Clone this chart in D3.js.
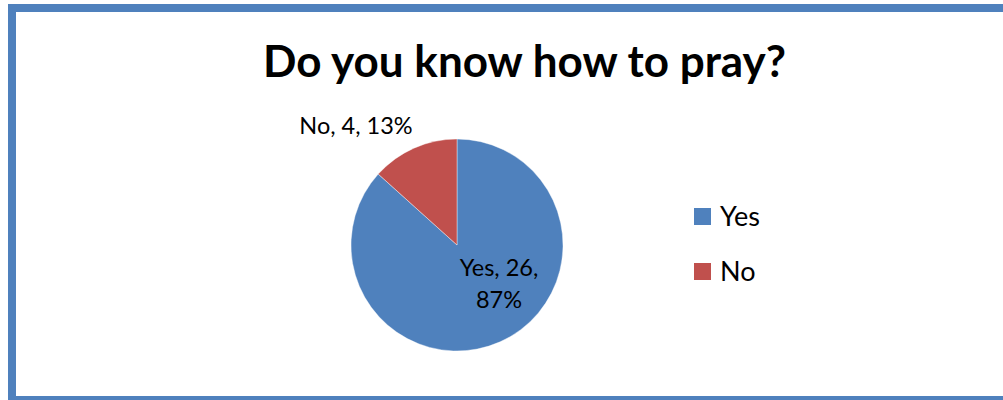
<!DOCTYPE html>
<html><head><meta charset="utf-8">
<script src="https://cdn.jsdelivr.net/npm/d3@7"></script>
<style>html,body{margin:0;padding:0;background:#fff;overflow:hidden}svg{display:block;overflow:hidden}</style>
</head><body>
<svg id="chart" width="1003" height="400"></svg>
<script>
const title = "Do you know how to pray?";
const categories = ["Yes", "No"];
const values = [26, 4];
const colors = ["#4F81BD", "#C0504D"];

const svg = d3.select("#chart");
const font = "Lato, 'Liberation Sans', sans-serif";

// outer frame: only top, left and bottom edges are inside the picture
svg.append("path").attr("d", "M1003,8H12V400H1003")
  .attr("fill", "none").attr("stroke", "#4F81BD").attr("stroke-width", 8);

svg.append("text").attr("x", 524.5).attr("y", 77).attr("text-anchor", "middle")
  .attr("font-family", font).attr("font-weight", "bold").attr("font-size", 44)
  .attr("fill", "#000").text(title);

const cx = 457, cy = 245, r = 106;
const total = d3.sum(values);
const pie = d3.pie().sort(null).value(d => d.v);
const data = pie(categories.map((c, i) => ({c, v: values[i]})));
const arc = d3.arc().innerRadius(0).outerRadius(r);
const color = d3.scaleOrdinal().domain(categories).range(colors);

const g = svg.append("g").attr("transform", `translate(${cx},${cy})`);
g.selectAll("path").data(data).join("path")
  .attr("d", arc).attr("fill", d => color(d.data.c))
  .attr("stroke", "#fff").attr("stroke-width", 0.4);

const pct = d => Math.round(d.data.v / total * 100) + "%";
// label placements (Excel best-fit style), relative to the pie centre
const labelLayout = {
  "Yes": {dx: 42, dy: 31, lines: d => [`${d.data.c}, ${d.data.v},`, pct(d)]},
  "No": {dx: -101, dy: -111, lines: d => [`${d.data.c}, ${d.data.v}, ${pct(d)}`]}
};
data.forEach(d => {
  const L = labelLayout[d.data.c];
  const t = g.append("text").attr("text-anchor", "middle")
    .attr("font-family", font).attr("font-size", 23.5).attr("fill", "#000");
  L.lines(d).forEach((s, i) => {
    t.append("tspan").attr("x", L.dx).attr("y", L.dy + i * 32).text(s);
  });
});

// legend
const leg = svg.append("g").attr("transform", "translate(694,208)");
const items = leg.selectAll("g").data(categories).join("g")
  .attr("transform", (d, i) => `translate(0,${i * 55})`);
items.append("rect").attr("width", 17).attr("height", 17).attr("fill", d => color(d));
items.append("text").attr("x", 26).attr("y", 18).attr("font-family", font)
  .attr("font-size", 27).attr("fill", "#000").text(d => d);
</script>
</body></html>
